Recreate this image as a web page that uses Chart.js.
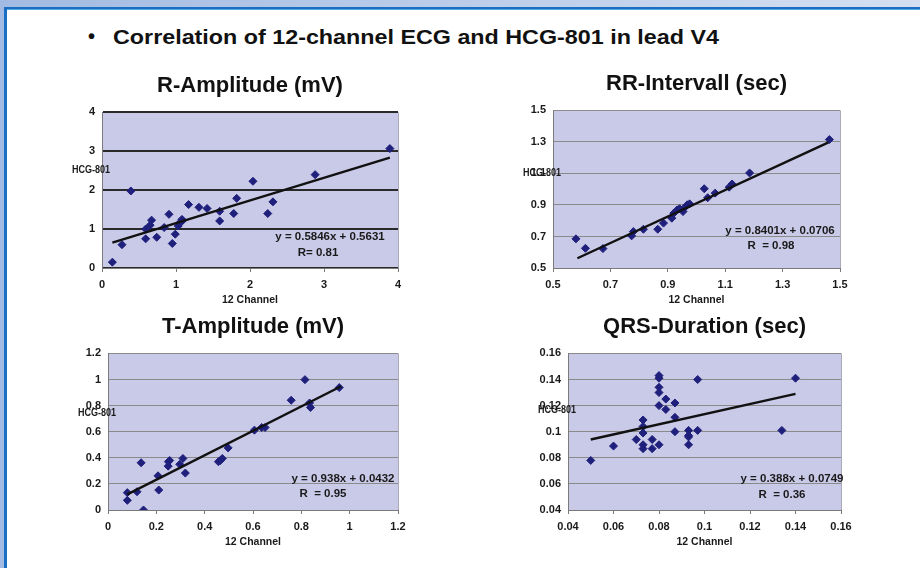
<!DOCTYPE html>
<html><head><meta charset="utf-8">
<script src="https://cdn.jsdelivr.net/npm/chart.js@4.4.1/dist/chart.umd.min.js"></script>
<style>
html,body{margin:0;padding:0;background:#fff;width:920px;height:568px;overflow:hidden;font-family:'Liberation Sans',Arial,sans-serif;}
#topband{position:absolute;left:0;top:0;width:920px;height:7px;background:linear-gradient(to right,#a3bbe2,#d4dff1);}
#topline{position:absolute;left:4px;top:7px;width:916px;height:2px;background:#1a6fc2;}
#topline2{position:absolute;left:7px;top:9px;width:913px;height:1px;background:#5aa6e4;}
#leftband{position:absolute;left:0;top:0;width:4px;height:568px;background:#a3bbe2;}
#leftline{position:absolute;left:4px;top:7px;width:3px;height:561px;background:#1a6fc2;}
#bullet{position:absolute;left:88px;top:25px;font-weight:bold;font-size:20px;color:#111;}
#heading{position:absolute;left:113px;top:26px;font-weight:bold;font-size:20px;color:#111;white-space:nowrap;transform:scaleX(1.165);transform-origin:left center;}
.wrap{position:absolute;}
</style></head><body>
<div id="topband"></div><div id="leftband"></div><div id="topline"></div><div id="topline2"></div><div id="leftline"></div>
<div id="bullet">•</div>
<div id="heading">Correlation of 12-channel ECG and HCG-801 in lead V4</div>
<div class="wrap" id="w1"><canvas id="c1"></canvas></div>
<div class="wrap" id="w2"><canvas id="c2"></canvas></div>
<div class="wrap" id="w3"><canvas id="c3"></canvas></div>
<div class="wrap" id="w4"><canvas id="c4"></canvas></div>
<script>
// ---------- DATA ----------
const rAmpX = [0.14,0.27,0.39,0.59,0.59,0.65,0.67,0.74,0.84,0.905,0.95,0.99,1.03,1.05,1.08,1.09,1.17,1.31,1.42,1.59,1.59,1.78,1.82,2.04,2.24,2.31,2.88,3.89];
const rAmpY = [0.15,0.60,1.98,0.75,1.00,1.10,1.23,0.79,1.04,1.38,0.63,0.87,1.08,1.16,1.25,1.22,1.63,1.56,1.53,1.46,1.21,1.40,1.79,2.23,1.40,1.70,2.40,3.07];
const rAmpTrendX = [0.14,3.89];
const rAmpTrendY = [0.65,2.84];
const rAmpXTicks = [0,1,2,3,4];
const rAmpYTicks = [0,1,2,3,4];

const rrX = [0.58,0.613,0.674,0.774,0.78,0.815,0.865,0.885,0.914,0.921,0.933,0.941,0.953,0.959,0.968,0.976,1.027,1.039,1.065,1.114,1.124,1.185,1.463];
const rrY = [0.685,0.625,0.623,0.704,0.731,0.746,0.746,0.785,0.816,0.848,0.869,0.876,0.858,0.884,0.901,0.907,1.003,0.946,0.975,1.013,1.033,1.103,1.315];
const rrTrendX = [0.585,1.46];
const rrTrendY = [0.562,1.297];
const rrXTicks = [0.5,0.7,0.9,1.1,1.3,1.5];
const rrYTicks = [0.5,0.7,0.9,1.1,1.3,1.5];

const tX = [0.08,0.08,0.12,0.137,0.147,0.207,0.21,0.249,0.25,0.255,0.297,0.31,0.32,0.457,0.465,0.473,0.497,0.606,0.636,0.65,0.758,0.815,0.834,0.838,0.957];
const tY = [0.133,0.074,0.14,0.362,0.0,0.262,0.153,0.336,0.37,0.38,0.35,0.395,0.283,0.37,0.38,0.395,0.476,0.612,0.632,0.632,0.841,0.999,0.82,0.785,0.938];
const tTrendX = [0.08,0.965];
const tTrendY = [0.12,0.948];
const tXTicks = [0,0.2,0.4,0.6,0.8,1,1.2];
const tYTicks = [0,0.2,0.4,0.6,0.8,1,1.2];

const qX = [0.05,0.06,0.07,0.073,0.073,0.073,0.073,0.073,0.077,0.077,0.08,0.08,0.08,0.08,0.08,0.08,0.083,0.083,0.087,0.087,0.087,0.093,0.093,0.093,0.093,0.097,0.097,0.134,0.14];
const qY = [0.078,0.089,0.094,0.109,0.104,0.099,0.090,0.087,0.094,0.087,0.143,0.141,0.134,0.130,0.120,0.090,0.125,0.117,0.122,0.111,0.100,0.101,0.097,0.096,0.090,0.140,0.101,0.101,0.141];
const qTrendX = [0.05,0.14];
const qTrendY = [0.094,0.129];
const qXTicks = [0.04,0.06,0.08,0.1,0.12,0.14,0.16];
const qYTicks = [0.04,0.06,0.08,0.1,0.12,0.14,0.16];

const titles = ['R-Amplitude (mV)','RR-Intervall (sec)','T-Amplitude (mV)','QRS-Duration (sec)'];
const equations = ['y = 0.5846x + 0.5631','y = 0.8401x + 0.0706','y = 0.938x + 0.0432','y = 0.388x + 0.0749'];
const rTexts = ['R= 0.81','R  = 0.98','R  = 0.95','R  = 0.36'];
const xAxisTitle = '12 Channel';
const yAxisTitle = 'HCG-801';

// ---------- LAYOUT / STYLE ----------
const specs = [
  {id:'c1', wrap:'w1', plot:{L:102,T:112,R:398,B:268}, xs:rAmpX, ys:rAmpY, tx:rAmpTrendX, ty:rAmpTrendY, xt:rAmpXTicks, yt:rAmpYTicks, dark:true, eqOff:[68,31], rOff:[80,15], yTitleDy:58},
  {id:'c2', wrap:'w2', plot:{L:553,T:110,R:840,B:268}, xs:rrX, ys:rrY, tx:rrTrendX, ty:rrTrendY, xt:rrXTicks, yt:rrYTicks, dark:false, eqOff:[60,37], rOff:[69,22], yTitleDy:63},
  {id:'c3', wrap:'w3', plot:{L:108,T:353,R:398,B:510}, xs:tX, ys:tY, tx:tTrendX, ty:tTrendY, xt:tXTicks, yt:tYTicks, dark:false, eqOff:[55,31], rOff:[75,16], yTitleDy:60},
  {id:'c4', wrap:'w4', plot:{L:568,T:353,R:841,B:510}, xs:qX, ys:qY, tx:qTrendX, ty:qTrendY, xt:qXTicks, yt:qYTicks, dark:false, eqOff:[49,31], rOff:[59,15], yTitleDy:57}
];
const Y_W = 50, X_H = 38, TOP_H = 50, RIGHT_PAD = 30;
const FONT = "'Liberation Sans', Arial, Helvetica, sans-serif";
Chart.defaults.font.family = FONT;
Chart.defaults.color = '#1a1a1a';

const fmt = v => String(+Number(v).toFixed(3));

const extras = {
  id:'extras',
  beforeDraw(chart, args, o){
    const a = chart.chartArea, c = chart.ctx;
    c.save();
    c.fillStyle = '#c9c9e8';
    c.fillRect(a.left, a.top, a.right - a.left, a.bottom - a.top);
    c.restore();
  },
  beforeDatasetsDraw(chart, args, o){
    const a = chart.chartArea, c = chart.ctx;
    c.save();
    c.strokeStyle = '#a9a9b8';
    c.lineWidth = 1;
    c.beginPath();
    c.moveTo(a.right + 0.5, a.top);
    c.lineTo(a.right + 0.5, a.bottom);
    c.stroke();
    c.restore();
  },
  afterDraw(chart, args, o){
    const a = chart.chartArea, c = chart.ctx;
    c.save();
    c.fillStyle = '#1a1a1a';
    c.font = 'bold 11px ' + FONT;
    c.textBaseline = 'middle';
    c.textAlign = 'right';
    c.save();
    c.translate(a.left + 8, a.top + o.yTitleDy);
    c.scale(0.82, 1);
    c.fillText(o.yTitle, 0, 0);
    c.restore();
    c.textAlign = 'center';
    c.font = 'bold 11.5px ' + FONT;
    c.fillText(o.eq, a.right - o.eqOff[0], a.bottom - o.eqOff[1]);
    c.fillText(o.r, a.right - o.rOff[0], a.bottom - o.rOff[1]);
    c.restore();
  }
};

specs.forEach((s, i) => {
  const p = s.plot;
  const w = (p.R - p.L) + Y_W + RIGHT_PAD;
  const h = (p.B - p.T) + TOP_H + X_H;
  const wrap = document.getElementById(s.wrap);
  wrap.style.left = (p.L - Y_W) + 'px';
  wrap.style.top = (p.T - TOP_H) + 'px';
  wrap.style.width = w + 'px';
  wrap.style.height = h + 'px';
  const cv = document.getElementById(s.id);
  cv.width = w; cv.height = h;
  cv.style.width = w + 'px'; cv.style.height = h + 'px';

  const pts = s.xs.map((x, k) => ({x: x, y: s.ys[k]}));
  const trend = s.tx.map((x, k) => ({x: x, y: s.ty[k]}));

  new Chart(cv, {
    type: 'scatter',
    data: {
      datasets: [
        {type:'line', data: trend, borderColor:'#111111', borderWidth:2.4, pointRadius:0, fill:false, showLine:true, order:0, tension:0},
        {data: pts, pointStyle:'rectRot', pointRadius:4, pointHoverRadius:4, backgroundColor:'#1f1f7c', borderColor:'#1f1f7c', borderWidth:1, order:1}
      ]
    },
    options: {
      responsive:false, animation:false, devicePixelRatio:1,
      layout:{padding:{left:0, right:RIGHT_PAD, top:0, bottom:0}},
      plugins:{
        legend:{display:false}, tooltip:{enabled:false},
        title:{display:true, text:titles[i], fullSize:false, color:'#111', font:{size:22, weight:'bold', family:FONT}, padding:{top:11, bottom:13}},
        extras:{yTitle:yAxisTitle, eq:equations[i], r:rTexts[i], eqOff:s.eqOff, rOff:s.rOff, yTitleDy:s.yTitleDy}
      },
      scales:{
        x:{
          type:'linear', position:'bottom',
          min:s.xt[0], max:s.xt[s.xt.length-1],
          afterBuildTicks: sc => { sc.ticks = s.xt.map(v => ({value:v})); },
          afterFit: sc => { sc.height = X_H; },
          ticks:{padding:6, font:{size:11, weight:'bold'}, color:'#1a1a1a', callback:v => fmt(v), maxRotation:0, autoSkip:false},
          grid:{drawOnChartArea:false, drawTicks:true, tickLength:4, color:'#7a7a7a'},
          border:{color:'#7a7a7a', width:1},
          title:{display:true, text:xAxisTitle, font:{size:10.5, weight:'bold'}, color:'#1a1a1a', padding:0}
        },
        y:{
          type:'linear', position:'left',
          min:s.yt[0], max:s.yt[s.yt.length-1],
          afterBuildTicks: sc => { sc.ticks = s.yt.map(v => ({value:v})); },
          afterFit: sc => { sc.width = Y_W; },
          ticks:{padding:7, font:{size:11, weight:'bold'}, color:'#1a1a1a', callback:v => fmt(v), autoSkip:false},
          grid:{drawTicks:false, color: s.dark ? '#2a2a2a' : '#8a8a8a', lineWidth: s.dark ? 2 : 1},
          border:{color:'#7a7a7a', width:1}
        }
      }
    },
    plugins:[extras]
  });
});
</script>
</body></html>
